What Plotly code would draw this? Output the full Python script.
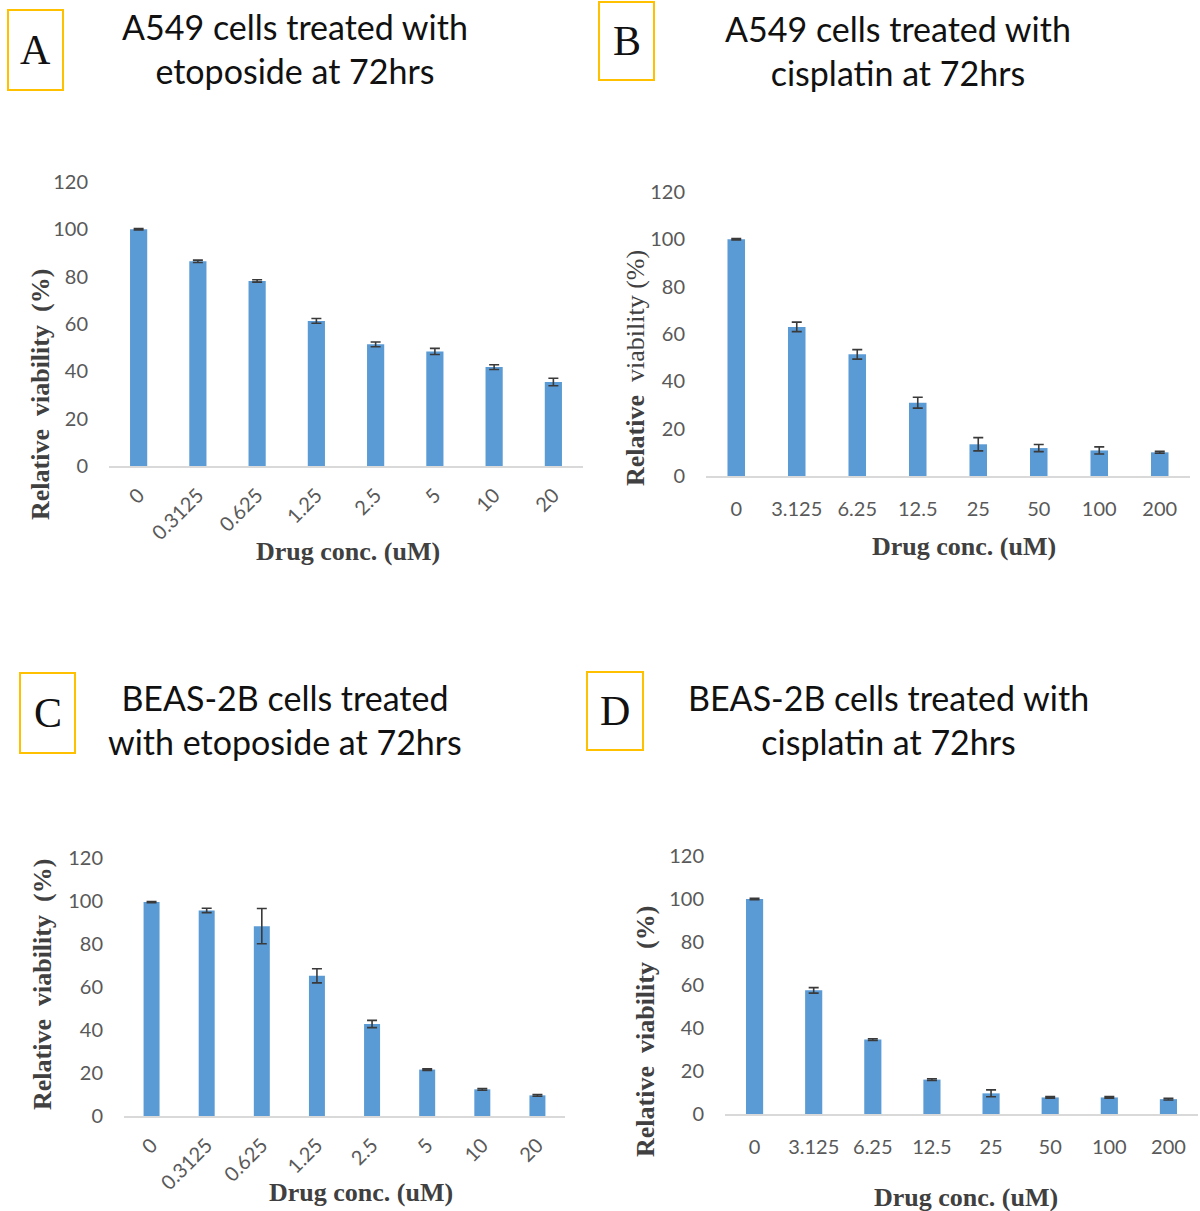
import plotly.graph_objects as go

W, H = 1200, 1211

# ---- data -------------------------------------------------------------
etoposide_conc = ["0", "0.3125", "0.625", "1.25", "2.5", "5", "10", "20"]
cisplatin_conc = ["0", "3.125", "6.25", "12.5", "25", "50", "100", "200"]

a549_etoposide = [100, 86.5, 78.2, 61.3, 51.4, 48.4, 41.8, 35.5]
a549_etoposide_err = [0.3, 0.5, 0.5, 1.0, 1.0, 1.3, 1.0, 1.6]

a549_cisplatin = [100, 63.0, 51.4, 31.0, 13.4, 11.8, 10.8, 10.0]
a549_cisplatin_err = [0.3, 2.0, 2.0, 2.3, 2.8, 1.5, 1.5, 0.4]

beas_etoposide = [99.5, 95.6, 88.3, 65.2, 42.8, 21.6, 12.4, 9.6]
beas_etoposide_err = [0.3, 1.0, 8.2, 3.3, 1.7, 0.4, 0.4, 0.4]

beas_cisplatin = [100, 57.5, 34.6, 16.0, 9.6, 7.7, 7.7, 6.9]
beas_cisplatin_err = [0.3, 1.3, 0.4, 0.4, 1.6, 0.4, 0.4, 0.4]

titles = [
    "A549 cells treated with<br>etoposide at 72hrs",
    "A549 cells treated with<br>cisplatin at 72hrs",
    "BEAS-2B cells treated<br>with etoposide at 72hrs",
    "BEAS-2B cells treated with<br>cisplatin at 72hrs",
]
panel_letters = ["A", "B", "C", "D"]

# ---- styling ----------------------------------------------------------
BAR = "#5b9bd5"
ERR = "#3a3a3a"
TICK = "#595959"
AXIS_TITLE = "#404040"
SANS = "Lato, 'Open Sans', sans-serif"
SERIF = "'Liberation Serif', 'Times New Roman', serif"


def px_x(x):
    return x / W


def px_y(y):
    return 1 - y / H


# plot areas in pixels: x-left, x-right, y of 0, y of 120
panels = [
    dict(x0=109, x1=583, y0=466, y1=182, cats=etoposide_conc, vals=a549_etoposide,
         err=a549_etoposide_err, rot=-45),
    dict(x0=706, x1=1190, y0=476, y1=192, cats=cisplatin_conc, vals=a549_cisplatin,
         err=a549_cisplatin_err, rot=0),
    dict(x0=124, x1=565, y0=1116, y1=858, cats=etoposide_conc, vals=beas_etoposide,
         err=beas_etoposide_err, rot=-45),
    dict(x0=725, x1=1198, y0=1114, y1=856, cats=cisplatin_conc, vals=beas_cisplatin,
         err=beas_cisplatin_err, rot=0),
]

fig = go.Figure()
layout = dict(
    template="none",
    width=W, height=H,
    margin=dict(l=0, r=0, t=0, b=0, pad=0),
    paper_bgcolor="white", plot_bgcolor="white",
    showlegend=False,
)

for i, p in enumerate(panels):
    n = "" if i == 0 else str(i + 1)
    fig.add_trace(go.Bar(
        x=p["cats"], y=p["vals"],
        width=0.29,
        marker=dict(color=BAR, line=dict(width=0)),
        error_y=dict(type="data", array=p["err"], color=ERR, thickness=1.6, width=5),
        xaxis="x" + n, yaxis="y" + n,
        hoverinfo="x+y",
    ))
    layout["xaxis" + n] = dict(
        domain=[px_x(p["x0"]), px_x(p["x1"])],
        anchor="y" + n,
        type="category", automargin=False,
        showline=True, linecolor="#d9d9d9", linewidth=1.5,
        showgrid=False, zeroline=False, ticks="",
        tickangle=p["rot"],
        tickfont=dict(family=SANS, size=20, color=TICK),
        ticklabelstandoff=14 if p["rot"] == 0 else 8,
    )
    layout["yaxis" + n] = dict(
        domain=[px_y(p["y0"]), px_y(p["y1"])],
        anchor="x" + n, automargin=False,
        range=[0, 120], tickvals=[0, 20, 40, 60, 80, 100, 120],
        showline=False, showgrid=False, zeroline=False, ticks="",
        tickfont=dict(family=SANS, size=20, color=TICK),
        ticklabelstandoff=20,
    )

annotations = []
shapes = []

# panel titles
title_pos = [(295, 48), (898, 50), (285, 719), (888, 719)]
for t, (cx, cy) in zip(titles, title_pos):
    annotations.append(dict(
        text=t, x=px_x(cx), y=px_y(cy), xref="paper", yref="paper",
        showarrow=False, xanchor="center", yanchor="middle", align="center",
        font=dict(family=SANS, size=34, color="#111111"),
    ))

# panel letters in gold boxes
letter_boxes = [(8, 10, 63, 90), (599, 2, 654, 80), (20, 673, 75, 753), (587, 672, 643, 750)]
for letter, (bx0, by0, bx1, by1) in zip(panel_letters, letter_boxes):
    shapes.append(dict(
        type="rect", xref="paper", yref="paper",
        x0=px_x(bx0), x1=px_x(bx1), y0=px_y(by1), y1=px_y(by0),
        line=dict(color="#ffc000", width=2), fillcolor="white", layer="below",
    ))
    annotations.append(dict(
        text=letter, x=px_x((bx0 + bx1) / 2), y=px_y((by0 + by1) / 2),
        xref="paper", yref="paper", showarrow=False,
        xanchor="center", yanchor="middle",
        font=dict(family=SERIF, size=42, color="#111111"),
    ))

# axis titles
ytitle_text = [
    "<b>Relative  viability  (%)</b>",
    "<b>Relative</b>  viability (%)",
    "<b>Relative  viability  (%)</b>",
    "<b>Relative  viability  (%)</b>",
]
ytitle_pos = [(40, 395), (636, 368), (42, 985), (645, 1032)]
for t, (cx, cy) in zip(ytitle_text, ytitle_pos):
    annotations.append(dict(
        text=t, x=px_x(cx), y=px_y(cy), xref="paper", yref="paper",
        showarrow=False, textangle=-90, xanchor="center", yanchor="middle",
        font=dict(family=SERIF, size=26, color=AXIS_TITLE),
    ))

xtitle_pos = [(348, 551), (964, 546), (361, 1192), (966, 1197)]
for cx, cy in xtitle_pos:
    annotations.append(dict(
        text="<b>Drug conc. (uM)</b>", x=px_x(cx), y=px_y(cy),
        xref="paper", yref="paper", showarrow=False,
        xanchor="center", yanchor="middle",
        font=dict(family=SERIF, size=26, color=AXIS_TITLE),
    ))

layout["annotations"] = annotations
layout["shapes"] = shapes
fig.update_layout(**layout)

fig.write_html("out.html")
